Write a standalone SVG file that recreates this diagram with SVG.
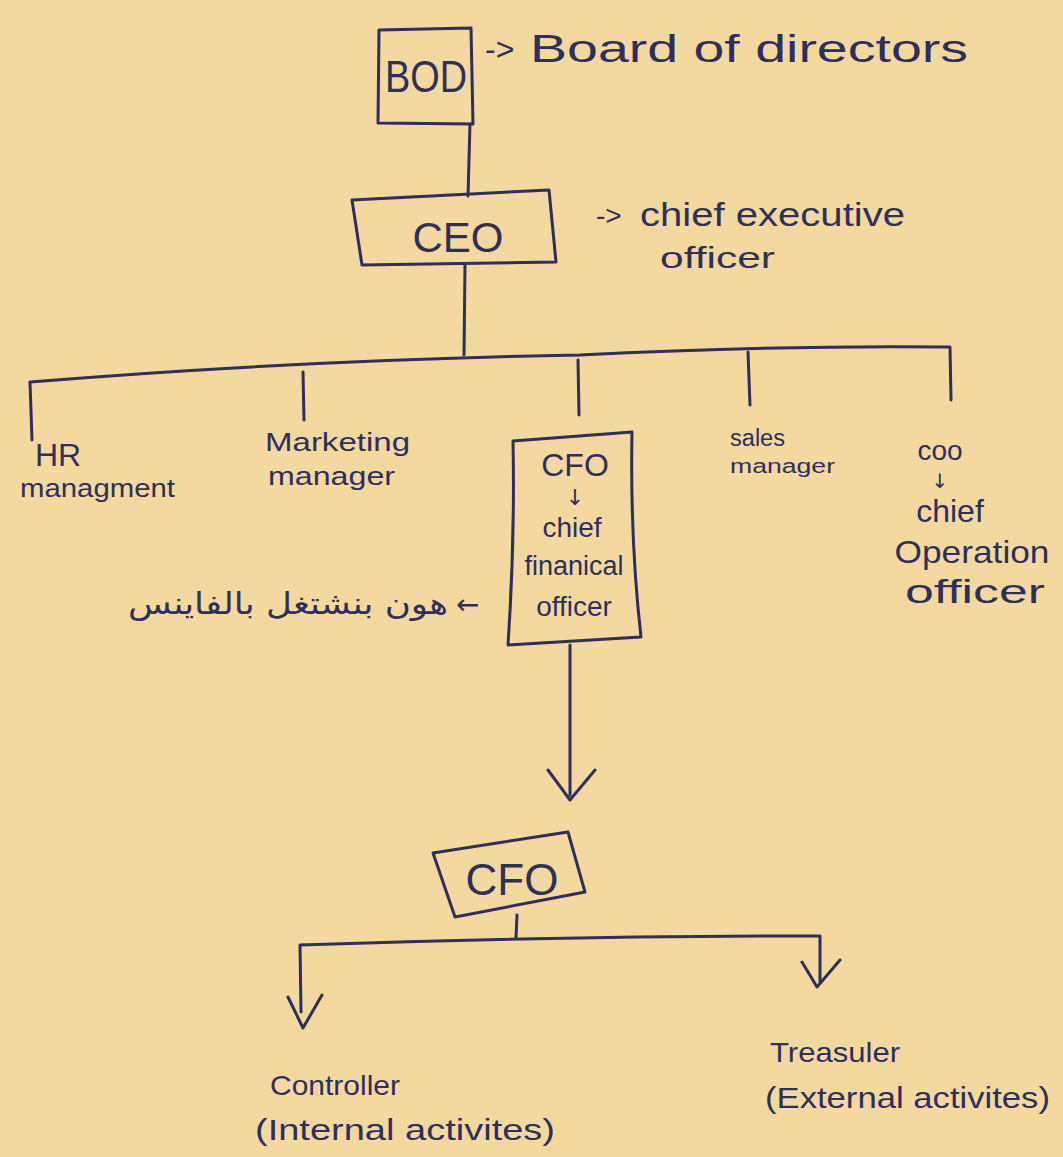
<svg xmlns="http://www.w3.org/2000/svg" width="1063" height="1157" viewBox="0 0 1063 1157">
<defs>
<style>
.bg{fill:#f3d9a0}
.ln{fill:none;stroke:#2e2f5c;stroke-width:3;stroke-linecap:round;stroke-linejoin:round}
.box{fill:none;stroke:#2e2f5c;stroke-width:3;stroke-linejoin:round}
.t{font-family:"Liberation Sans","Noto Sans",sans-serif;fill:#2e2f5c}
.s{font-family:"DejaVu Sans",sans-serif;fill:#2e2f5c}
.ar{font-family:"DejaVu Sans","Noto Sans",sans-serif;fill:#2e2f5c}
</style>
</defs>
<rect class="bg" x="0" y="0" width="1063" height="1157"/>
<g id="connectors">
<path class="ln" d="M470,124 L468,196"/>
<path class="ln" d="M465,265 L464,355"/>
<path class="ln" d="M32,440 L30,382 Q300,360 580,355 Q780,345 950,347 L951,400"/>
<path class="ln" d="M303,372 L304,420"/>
<path class="ln" d="M578,360 L579,415"/>
<path class="ln" d="M748,352 L750,405"/>
<path class="ln" d="M570,645 L570,795 M548,770 L570,800 L595,770"/>
<path class="ln" d="M517,915 L516,938"/>
<path class="ln" d="M301,1012 L300,945 Q560,936 820,936 L820,982 M288,997 L303,1028 L322,995 M802,962 L817,987 L840,960"/>
</g>
<g id="bod">
<path class="box" d="M379,30 L471,28 L473,124 L378,123 Z"/>
<text class="t" x="426" y="92" font-size="44" text-anchor="middle" textLength="82" lengthAdjust="spacingAndGlyphs">BOD</text>
<text class="t" x="485" y="60" font-size="32">-&gt;</text>
<text class="t" x="530" y="62" font-size="38" textLength="438" lengthAdjust="spacingAndGlyphs">Board of directors</text>
</g>
<g id="ceo">
<path class="box" d="M352,200 L549,190 L556,262 L362,265 Z"/>
<text class="t" x="458" y="252" font-size="42" text-anchor="middle">CEO</text>
<text class="t" x="596" y="225" font-size="28">-&gt;</text>
<text class="t" x="640" y="226" font-size="34" textLength="265" lengthAdjust="spacingAndGlyphs">chief executive</text>
<text class="t" x="660" y="268" font-size="30" textLength="115" lengthAdjust="spacingAndGlyphs">officer</text>
</g>
<g id="hr">
<text class="t" x="35" y="466" font-size="32">HR</text>
<text class="t" x="20" y="497" font-size="25" textLength="155" lengthAdjust="spacingAndGlyphs">managment</text>
</g>
<g id="marketing">
<text class="t" x="265" y="451" font-size="26" textLength="145" lengthAdjust="spacingAndGlyphs">Marketing</text>
<text class="t" x="268" y="485" font-size="26" textLength="127" lengthAdjust="spacingAndGlyphs">manager</text>
</g>
<g id="cfo1">
<path class="box" d="M513,441 L632,432 Q630,540 641,637 L508,645 Q515,540 513,441 Z"/>
<text class="t" x="575" y="476" font-size="32" text-anchor="middle">CFO</text>
<text class="s" x="575" y="505" font-size="22" text-anchor="middle">↓</text>
<text class="t" x="572" y="537" font-size="28" text-anchor="middle">chief</text>
<text class="t" x="574" y="575" font-size="27" text-anchor="middle">finanical</text>
<text class="t" x="574" y="616" font-size="28" text-anchor="middle">officer</text>
</g>
<g id="finance-note">
<text class="s" x="456" y="614" font-size="28">←</text>
<text class="ar" x="448" y="614" font-size="30" text-anchor="end" textLength="320" lengthAdjust="spacingAndGlyphs">هون بنشتغل بالفاينس</text>
</g>
<g id="sales">
<text class="t" x="730" y="446" font-size="23" textLength="55" lengthAdjust="spacingAndGlyphs">sales</text>
<text class="t" x="730" y="473" font-size="20" textLength="105" lengthAdjust="spacingAndGlyphs">manager</text>
</g>
<g id="coo">
<text class="t" x="940" y="460" font-size="28" text-anchor="middle">coo</text>
<text class="s" x="940" y="488" font-size="20" text-anchor="middle">↓</text>
<text class="t" x="950" y="522" font-size="32" text-anchor="middle">chief</text>
<text class="t" x="972" y="563" font-size="32" text-anchor="middle" textLength="155" lengthAdjust="spacingAndGlyphs">Operation</text>
<text class="t" x="975" y="603" font-size="33" text-anchor="middle" textLength="140" lengthAdjust="spacingAndGlyphs">officer</text>
</g>
<g id="cfo2">
<path class="box" d="M433,853 L568,832 L585,892 L455,917 Z"/>
<text class="t" x="512" y="895" font-size="44" text-anchor="middle">CFO</text>
</g>
<g id="controller">
<text class="t" x="270" y="1095" font-size="28" textLength="130" lengthAdjust="spacingAndGlyphs">Controller</text>
<text class="t" x="255" y="1140" font-size="30" textLength="300" lengthAdjust="spacingAndGlyphs">(Internal activites)</text>
</g>
<g id="treasurer">
<text class="t" x="770" y="1062" font-size="28" textLength="130" lengthAdjust="spacingAndGlyphs">Treasuler</text>
<text class="t" x="765" y="1108" font-size="30" textLength="285" lengthAdjust="spacingAndGlyphs">(External activites)</text>
</g>
</svg>
